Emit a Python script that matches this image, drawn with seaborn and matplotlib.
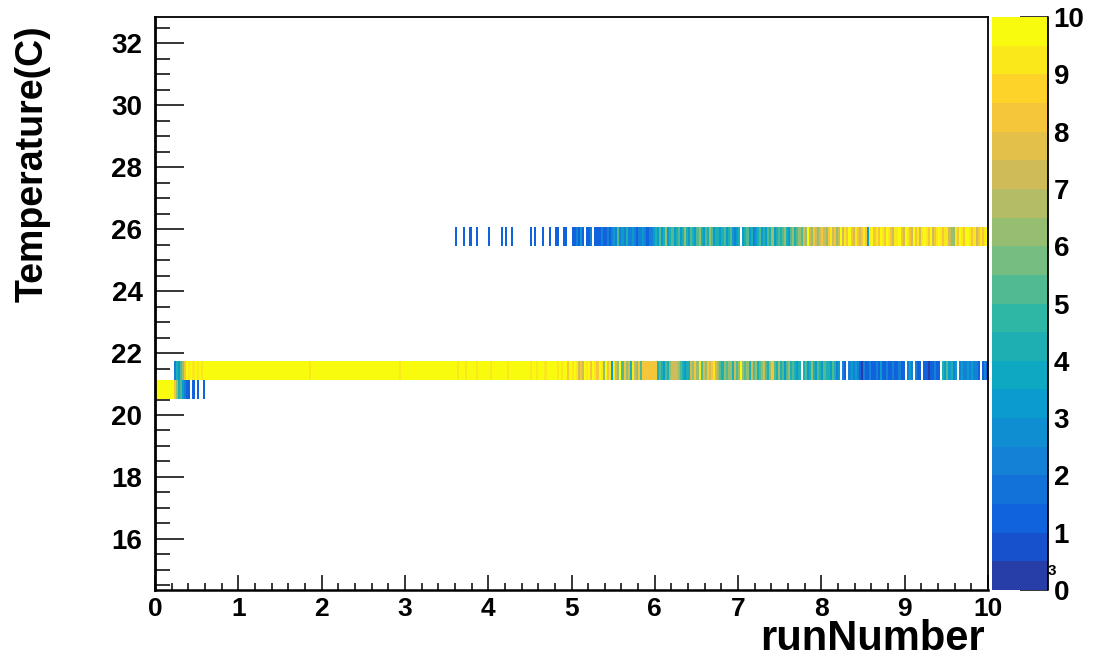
import numpy as np
import pandas as pd
import matplotlib
matplotlib.use("Agg")
import matplotlib.pyplot as plt
from matplotlib.colors import ListedColormap, LinearSegmentedColormap
from matplotlib.lines import Line2D
import seaborn as sns

# ---------------- data ----------------
# runNumber axis (in units of 10^3), temperature axis (C)
x_range = (0.0, 10.0)
n_xbins = 400
y_range = (14.35, 32.85)
n_ybins = 30
x_major = [0, 1, 2, 3, 4, 5, 6, 7, 8, 9, 10]
y_major = [16, 18, 20, 22, 24, 26, 28, 30, 32]
z_ticks = [0, 1, 2, 3, 4, 5, 6, 7, 8, 9, 10]

# temperature of each populated row
band_temps = [20.8, 21.4, 25.7]

# counts per runNumber bin ('.' = empty, 'A' = 10), groups of 10 bins
row_20_8 = [
    "AAAAAAAAA8", "6453211.1.", "1..1......", "..........", "..........",
    "..........", "..........", "..........", "..........", "..........",
    "..........", "..........", "..........", "..........", "..........",
    "..........", "..........", "..........", "..........", "..........",
    "..........", "..........", "..........", "..........", "..........",
    "..........", "..........", "..........", "..........", "..........",
    "..........", "..........", "..........", "..........", "..........",
    "..........", "..........", "..........", "..........", "..........",
]
row_21_4 = [
    ".........2", "43568A9A9A", "9A9AAAAAAA", "AAAAAAAAAA", "AAAAAAAAAA",
    "AAAAAAAAAA", "AAAAAAAAAA", "AAAA9AAAAA", "AAAAAAAAAA", "AAAAAAAAAA",
    "AAAAAAAAAA", "AAAAAAA9AA", "AAAAAAAAAA", "AAAAAAAAAA", "AAAAA9AAA9",
    "AAAA9AAAAA", "A9AAAAAAA9", "AAAAAAAAAA", "9AA9AAA9AA", "AAA9A9AA8A",
    "9A9787A9A8", "A98A96A893", "976A586749", "7685888888", "8454354677",
    "7654344768", "6957687897", "6546566475", "6A65647564", "5675468546",
    "4535645434", ".453464354", "354435423.", "21.2323210", "2112112131",
    "1211211211", ".232.211.1", "1011211.43", "53423.2322", "323221.121",
]
row_25_7 = [
    "..........", "..........", "..........", "..........", "..........",
    "..........", "..........", "..........", "..........", "..........",
    "..........", "..........", "..........", "..........", "....1...1.",
    ".1..1.....", "1.....1.1.", ".1........", "1.1...1..1", "..11..11..",
    "112131.112", ".111211212", "3252324223", "2122321223", "4353463453",
    "4534643543", "5643546534", "4345345323", "4.34534234", "5343546345",
    "4564356456", "576A768767", "876897867A", "798A879878", "9839A898A9",
    "8A98799A87", "A987A8979A", "98A789A989", "976698A98A", "A98978989A",
]
band_rows = [row_20_8, row_21_4, row_25_7]


def decode(groups):
    s = "".join(groups)
    assert len(s) == n_xbins, len(s)
    return [np.nan if c == "." else (10.0 if c == "A" else float(c)) for c in s]


dy = (y_range[1] - y_range[0]) / n_ybins
Z = np.full((n_ybins, n_xbins), np.nan)
for t, groups in zip(band_temps, band_rows):
    Z[int((t - y_range[0]) / dy)] = decode(groups)
df = pd.DataFrame(Z)

# ROOT "bird" palette, 20 contour levels
stops = [0.0, 0.125, 0.25, 0.375, 0.5, 0.625, 0.75, 0.875, 1.0]
red = [0.2082, 0.0592, 0.0780, 0.0232, 0.1802, 0.5301, 0.8186, 0.9956, 0.9764]
green = [0.1664, 0.3599, 0.5041, 0.6419, 0.7178, 0.7492, 0.7328, 0.7862, 0.9832]
blue = [0.5293, 0.8684, 0.8385, 0.7914, 0.6425, 0.4662, 0.3499, 0.1968, 0.0539]
bird = LinearSegmentedColormap.from_list(
    "bird", list(zip(stops, zip(red, green, blue))))
cmap = ListedColormap([bird((i + 0.99) / 20) for i in range(20)])

# ---------------- plot ----------------
sns.set_theme(style="white")
plt.rcParams["font.family"] = ["Liberation Sans", "DejaVu Sans"]
plt.rcParams["font.weight"] = "bold"
plt.rcParams["text.color"] = "black"
plt.rcParams["xtick.color"] = "black"
plt.rcParams["ytick.color"] = "black"
plt.rcParams["xtick.labelcolor"] = "black"
plt.rcParams["ytick.labelcolor"] = "black"

W, H = 1094, 659
fig = plt.figure(figsize=(W / 100, H / 100), dpi=100)
L, R, T, B = 155, 988, 17, 590
ax = fig.add_axes([L / W, 1 - B / H, (R - L) / W, (B - T) / H])
cax = fig.add_axes([992 / W, 1 - B / H, 56 / W, (B - T) / H])

sns.heatmap(df, ax=ax, cbar_ax=cax, cmap=cmap, vmin=0, vmax=10,
            xticklabels=False, yticklabels=False)

ax.set_xlim(0, n_xbins)
ax.set_ylim(0, n_ybins)


def xpos(v):
    return (v - x_range[0]) / (x_range[1] - x_range[0]) * n_xbins


def ypos(v):
    return (v - y_range[0]) / dy


ax.set_xticks([xpos(v) for v in x_major])
ax.set_xticklabels([str(v) for v in x_major], rotation=0)
ax.set_xticks([xpos(v) for v in np.arange(0, 10.001, 0.2)], minor=True)
ax.set_yticks([ypos(v) for v in y_major])
ax.set_yticklabels([str(v) for v in y_major], rotation=0)
ax.set_yticks([ypos(v) for v in np.arange(14.5, 32.85, 0.5)], minor=True)

for s in ax.spines.values():
    s.set_visible(True)
    s.set_color("black")
    s.set_linewidth(1.3)
ax.spines["left"].set_linewidth(2)
ax.spines["bottom"].set_linewidth(1.8)

ax.tick_params(axis="x", which="major", direction="in", length=11, width=1.1,
               labelsize=19, pad=5, bottom=True, top=False, color="black",
               labelcolor="black")
ax.tick_params(axis="x", which="minor", direction="in", length=5, width=1.1,
               bottom=True, top=False, color="black")
ax.tick_params(axis="y", which="major", direction="in", length=21, width=1.1,
               labelsize=20, pad=9, left=True, right=False, color="black",
               labelcolor="black")
ax.tick_params(axis="y", which="minor", direction="in", length=11, width=1.1,
               left=True, right=False, color="black")
for lab in ax.get_xticklabels() + ax.get_yticklabels():
    lab.set_fontweight("bold")
ax.set_xlabel("")
ax.set_ylabel("")

cbar = ax.collections[0].colorbar
cbar.set_ticks(z_ticks)
cbar.set_ticklabels([str(v) for v in z_ticks])
cbar.outline.set_visible(False)
cax.tick_params(direction="in", length=20, width=1.1, labelsize=20, pad=4,
                right=True, left=False, color="black", labelcolor="black")
for lab in cax.get_yticklabels():
    lab.set_fontweight("bold")
fig.add_artist(Line2D([1, 1], [0, 1], transform=cax.transAxes, color="black",
                      lw=1.3))

fig.text(985 / W, 1 - 658.5 / H, "runNumber", ha="right", va="bottom",
         fontsize=30, fontweight="bold", color="black")
fig.text(33 / W, 1 - 25 / H, "Temperature(C)", ha="center", va="top",
         rotation=90, fontsize=27, fontweight="bold", color="black")
fig.text(1048 / W, 1 - 571 / H, "3", ha="left", va="center", fontsize=11,
         fontweight="bold", color="black")

fig.savefig("out.png", dpi=100)
